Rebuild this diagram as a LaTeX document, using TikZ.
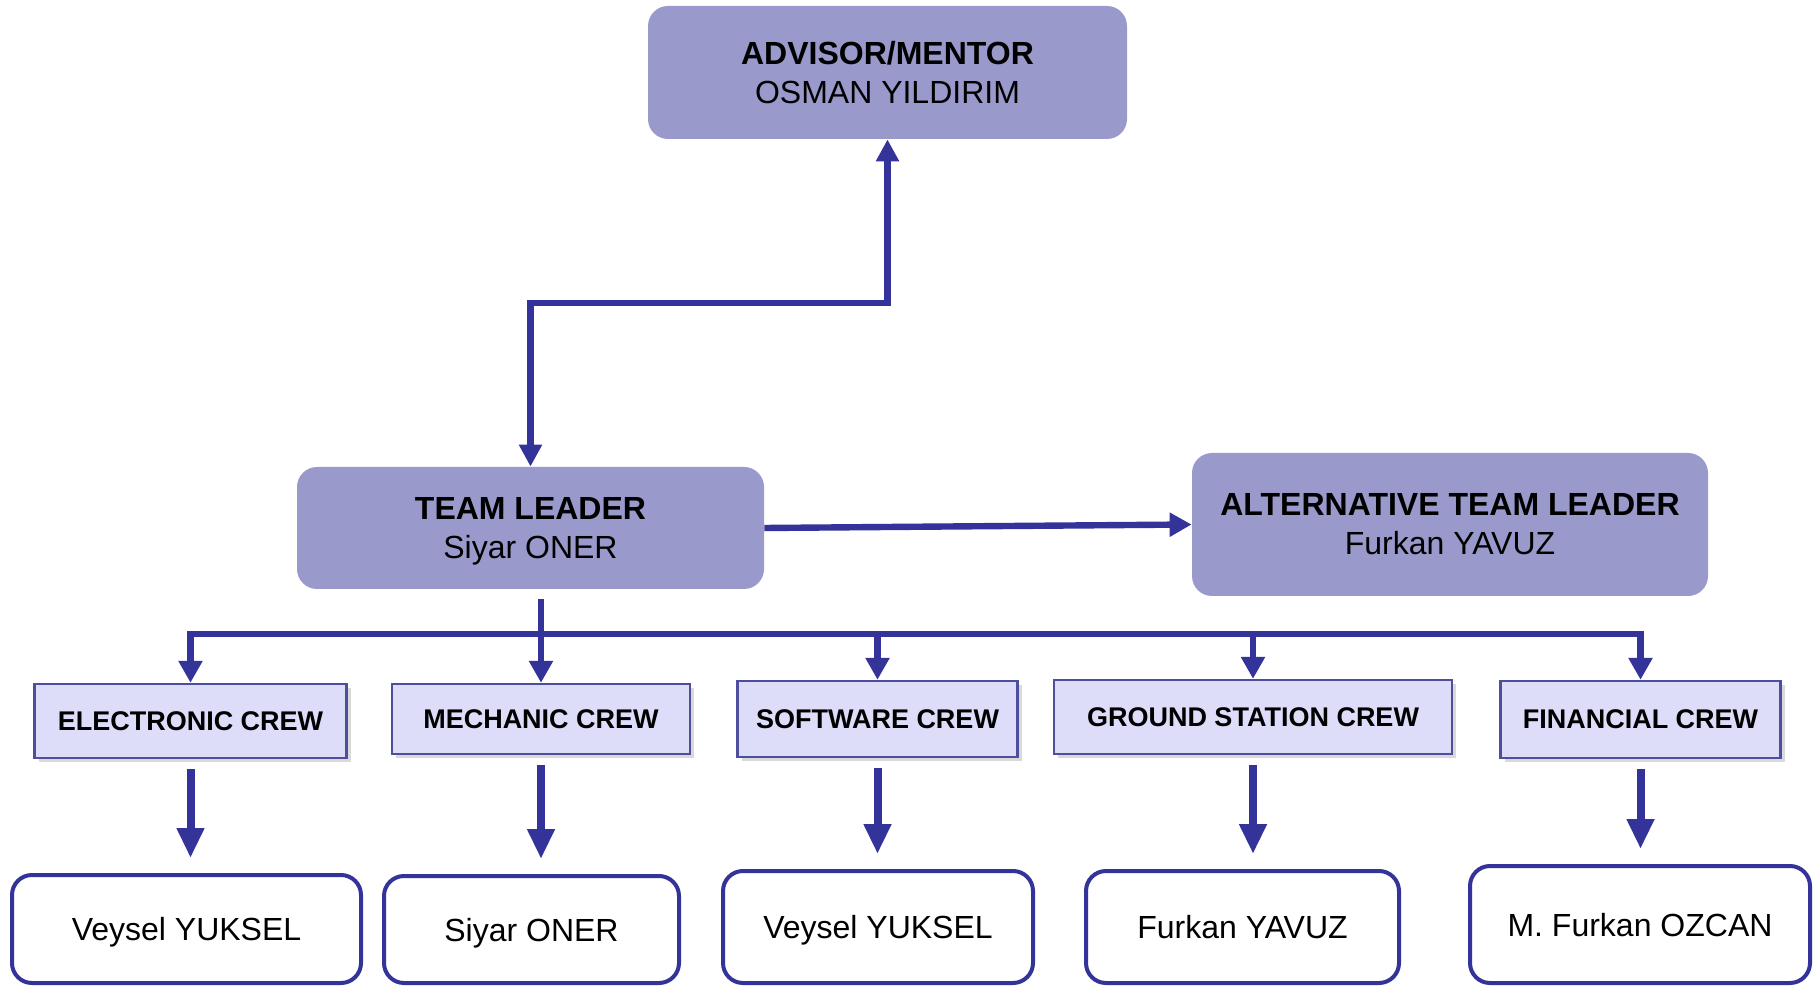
\documentclass[tikz,border=0pt]{standalone}
\usepackage{fontspec}
\setmainfont{Liberation Sans}
\usepackage{tikz}
\usetikzlibrary{arrows.meta,shadows,positioning,calc}
\definecolor{leadfill}{RGB}{153,153,204}
\definecolor{crewfill}{RGB}{221,221,250}
\definecolor{crewline}{RGB}{78,78,158}
\definecolor{linkblue}{RGB}{51,51,153}
\tikzset{
  lead/.style={rectangle,rounded corners=10pt,fill=leadfill,align=center,inner sep=0pt,
    font=\fontsize{16}{19.5}\selectfont},
  crew/.style={rectangle,fill=crewfill,draw=crewline,line width=1.2pt,inner sep=0pt,
    drop shadow={opacity=0.3,shadow xshift=2pt,shadow yshift=-2pt},
    font=\bfseries\fontsize{13.5}{15}\selectfont},
  member/.style={rectangle,rounded corners=10pt,draw=linkblue,line width=2pt,fill=white,
    inner sep=0pt,text height=11.5pt,text depth=0pt,font=\fontsize{16}{19}\selectfont},
  link/.style={draw=linkblue,line width=3.2pt},
  tip/.style={-{Triangle[width=11.5pt,length=11pt]}},
  fat/.style={draw=linkblue,line width=4pt,-{Triangle[width=13pt,length=15pt]}}
}
\begin{document}
\begin{tikzpicture}[x=0.5pt,y=-0.5pt]
\useasboundingbox (0,0) rectangle (1820,988);
\node[lead,minimum width=239.5pt,minimum height=66.5pt] (adv) at (887.5,72.5) {\textbf{ADVISOR/MENTOR}\\OSMAN YILDIRIM};
\node[lead,text depth=0pt,minimum width=233.5pt,minimum height=61pt] (tl) at (530.5,528) {\textbf{TEAM LEADER}\\Siyar ONER};
\node[lead,minimum width=258pt,minimum height=71.5pt] (atl) at (1450,524.5) {\textbf{ALTERNATIVE TEAM LEADER}\\Furkan YAVUZ};
\node[crew,minimum width=156pt,minimum height=37pt] (c1) at (190.5,721) {ELECTRONIC CREW};
\node[crew,minimum width=149pt,minimum height=35pt] (c2) at (541,719) {MECHANIC CREW};
\node[crew,minimum width=140pt,minimum height=38pt] (c3) at (877.5,719) {SOFTWARE CREW};
\node[crew,minimum width=199pt,minimum height=37pt] (c4) at (1253,717) {GROUND STATION CREW};
\node[crew,minimum width=140pt,minimum height=38.5pt] (c5) at (1640.5,719.5) {FINANCIAL CREW};
\node[member,minimum width=174.5pt,minimum height=54pt] (m1) at (186.5,929) {Veysel YUKSEL};
\node[member,minimum width=147.5pt,minimum height=53.5pt] (m2) at (531.5,929.5) {Siyar ONER};
\node[member,minimum width=155pt,minimum height=56pt] (m3) at (878,927) {Veysel YUKSEL};
\node[member,minimum width=156.5pt,minimum height=56pt] (m4) at (1242.5,927) {Furkan YAVUZ};
\node[member,minimum width=170pt,minimum height=58.5pt] (m5) at (1640,924.5) {M. Furkan OZCAN};
\coordinate (elbow) at (530.5,303);
\coordinate (bus) at (0,634);
\draw[link,{Triangle[width=11pt,length=11pt]}-{Triangle[width=11pt,length=11pt]}] (tl.north) -- (elbow) -| (adv.south);
\draw[link,tip] (tl.east) -- (atl.west);
\draw[link,line cap=rect] (c1.north |- bus) -- (c5.north |- bus);
\draw[link,tip] ([yshift=-5pt]tl.south -| c2.north) -- (c2.north);
\foreach \c in {c1,c3,c4,c5}
  \draw[link,tip] (\c.north |- bus) -- (\c.north);
\foreach \i in {1,...,5}
  \draw[fat] ([yshift=-5pt]c\i.south) -- ([yshift=7.5pt]c\i.south |- m\i.north);
\end{tikzpicture}
\end{document}
